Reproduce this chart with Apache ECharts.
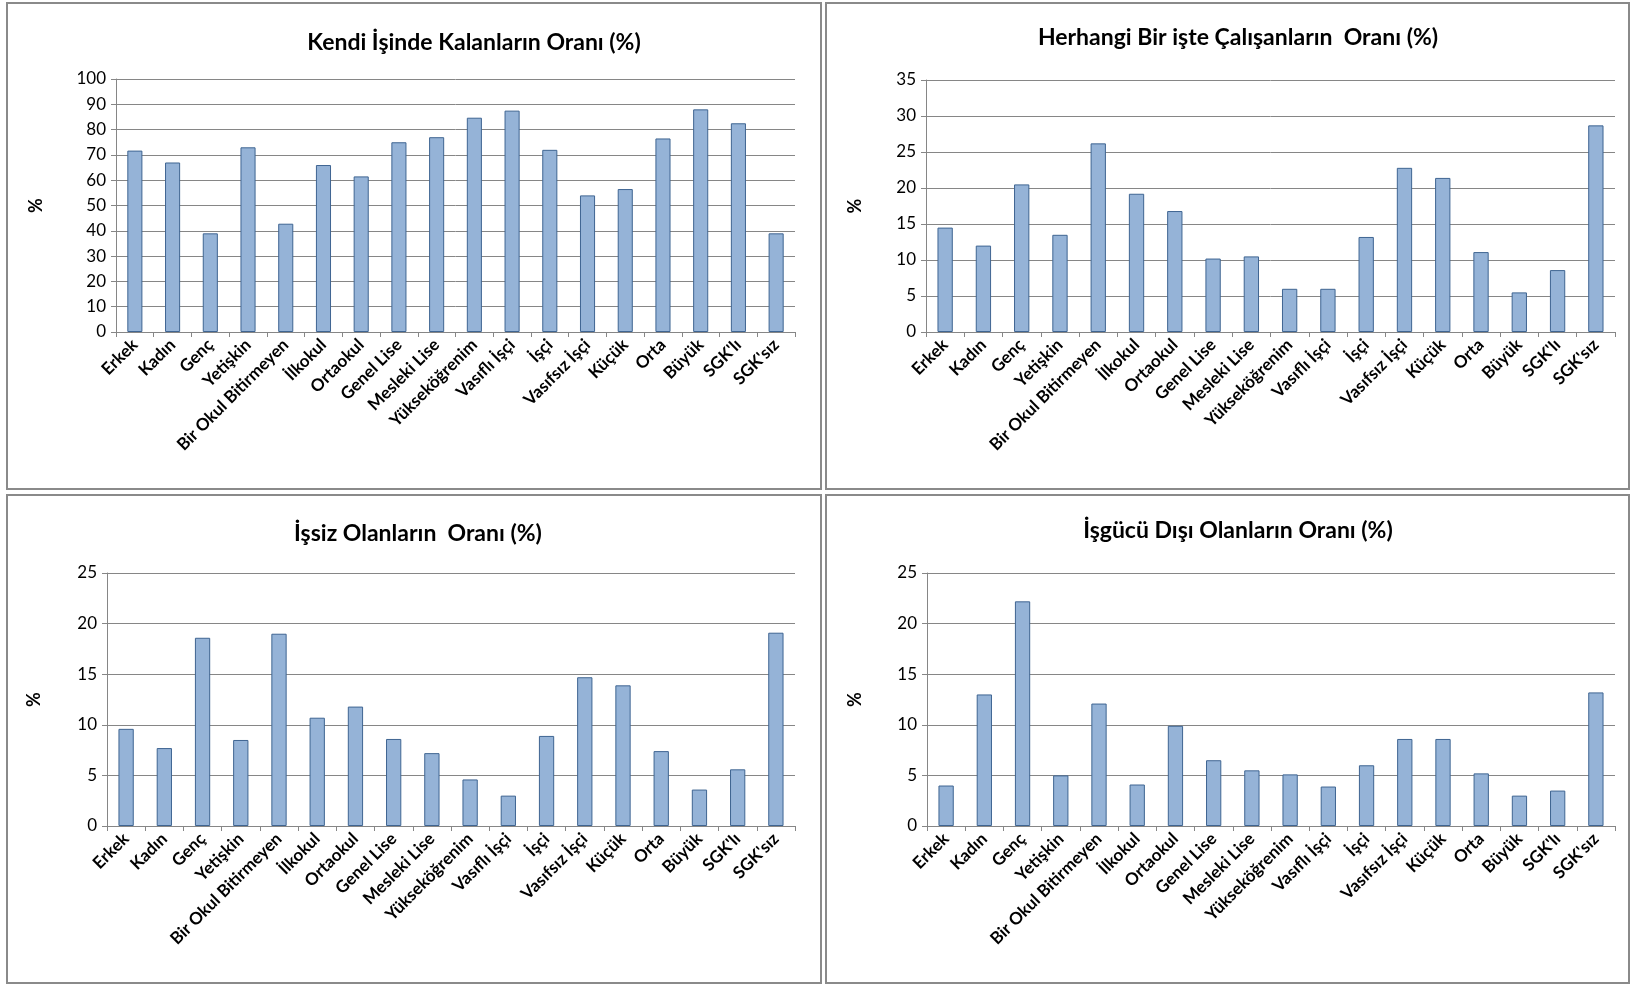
<!DOCTYPE html>
<html><head><meta charset="utf-8">
<script src="https://cdn.jsdelivr.net/npm/echarts@6/dist/echarts.min.js"></script>
<style>html,body{margin:0;padding:0;background:#fff}#c{width:1632px;height:986px}</style>
</head><body><div id="c"></div>
<script>
const categories = ["Erkek","Kadın","Genç","Yetişkin","Bir Okul Bitirmeyen","İlkokul","Ortaokul","Genel Lise","Mesleki Lise","Yükseköğrenim","Vasıflı İşçi","İşçi","Vasıfsız İşçi","Küçük","Orta","Büyük","SGK'lı","SGK'sız"];
const kendiIsinde = [71.7,67,39,73,42.8,66,61.5,75,77,84.7,87.5,72,54,56.5,76.5,88,82.5,39];
const herhangiIs = [14.5,12,20.5,13.5,26.2,19.2,16.8,10.2,10.5,6,6,13.2,22.8,21.4,11.1,5.5,8.6,28.7];
const issiz = [9.6,7.7,18.6,8.5,19,10.7,11.8,8.6,7.2,4.6,3,8.9,14.7,13.9,7.4,3.6,5.6,19.1];
const isgucuDisi = [4,13,22.2,5,12.1,4.1,9.9,6.5,5.5,5.1,3.9,6,8.6,8.6,5.2,3,3.5,13.2];
const titles = ["Kendi İşinde Kalanların Oranı (%)","Herhangi Bir işte Çalışanların  Oranı (%)","İşsiz Olanların  Oranı (%)","İşgücü Dışı Olanların Oranı (%)"];
const yMax = [100,35,25,25];
const yInterval = [10,5,5,5];

const seriesData = [kendiIsinde, herhangiIs, issiz, isgucuDisi];
const grids = [
  {left:116, top:79, width:679, height:253},
  {left:926, top:80, width:689, height:252},
  {left:107, top:573, width:688, height:253},
  {left:927, top:573, width:688, height:253}
];
const titlePos = [[469,26],[1233,21],[413,517],[1233,514]];
const nameGaps = [71,62,64,63];
const panels = [[7,3,814,486],[826,3,803,486],[7,495,814,488],[826,495,803,488]];
const font = "Lato, 'Open Sans', sans-serif";
const chart = echarts.init(document.getElementById('c'));
const option = {
  animation:false,
  title: titles.map((t,i)=>({text:t,left:titlePos[i][0],top:titlePos[i][1],textAlign:'center',
    textStyle:{fontFamily:font,fontWeight:'bold',fontSize:23,color:'#000'}})),
  graphic: panels.map(p=>({type:'rect',shape:{x:p[0],y:p[1],width:p[2],height:p[3]},
    style:{fill:'none',stroke:'#8a8a8a',lineWidth:2},silent:true})),
  grid: grids,
  xAxis: grids.map((g,i)=>({type:'category',gridIndex:i,data:categories,boundaryGap:true,
    axisLine:{lineStyle:{color:'#868686',width:1}},
    axisTick:{show:true,alignWithLabel:false,length:5,lineStyle:{color:'#868686'}},
    axisLabel:{interval:0,rotate:45,margin:10,fontFamily:font,fontWeight:'bold',fontSize:17,color:'#000'}})),
  yAxis: grids.map((g,i)=>({type:'value',gridIndex:i,min:0,max:yMax[i],interval:yInterval[i],
    name:'%',nameLocation:'middle',nameGap:nameGaps[i],nameRotate:90,
    nameTextStyle:{fontFamily:font,fontWeight:'bold',fontSize:18,color:'#000'},
    axisLine:{show:true,lineStyle:{color:'#868686'}},
    axisTick:{show:true,length:5,lineStyle:{color:'#868686'}},
    splitLine:{lineStyle:{color:'#868686',width:1}},
    axisLabel:{fontFamily:font,fontSize:17,color:'#000',margin:10}})),
  series: seriesData.map((d,i)=>({type:'bar',xAxisIndex:i,yAxisIndex:i,data:d,barWidth:'40%',
    itemStyle:{color:'#95B3D7',borderColor:'#3F6592',borderWidth:1}}))
};
chart.setOption(option);
</script></body></html>
